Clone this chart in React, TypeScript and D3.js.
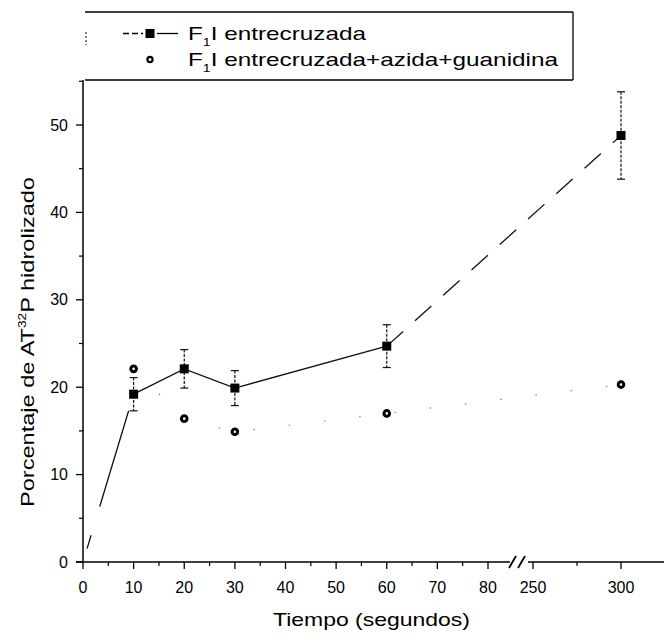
import React from "react";
import * as d3 from "d3";

// ---- data ----
const timesA = [10, 20, 30, 60, 300];
const valuesA = [19.2, 22.1, 19.9, 24.7, 48.8];
const errorsA = [1.9, 2.2, 2.0, 2.45, 5.0];
const originA = { t: 0, v: 0 };

const timesB = [10, 20, 30, 60, 300];
const valuesB = [22.1, 16.4, 14.9, 17.0, 20.3];

const xTicksLeft = [0, 10, 20, 30, 40, 50, 60, 70, 80];
const xMinorLeft = [5, 15, 25, 35, 45, 55, 65, 75];
const xTicksRight = [250, 300];
const xMinorRight = [275];
const yTicks = [0, 10, 20, 30, 40, 50];
const yMinor = [5, 15, 25, 35, 45, 55];

const legendLabels = ["I entrecruzada", "I entrecruzada+azida+guanidina"];

const W = 664;
const H = 642;

export default function App() {
  const xL = d3.scaleLinear().domain([0, 80]).range([83, 488]);
  const xR = d3.scaleLinear().domain([250, 300]).range([533, 621]);
  const x = (t: number) => (t <= 100 ? xL(t) : xR(t));
  const y = d3.scaleLinear().domain([0, 50]).range([562, 125]);

  const axisY = y(0);
  const axisX = xL(0);
  const breakX = 516;
  const font = "'Liberation Sans', Arial, sans-serif";

  const line = d3
    .line<[number, number]>()
    .x((d) => x(d[0]))
    .y((d) => y(d[1]));

  const solidPts: [number, number][] = timesA.slice(0, 4).map((t, i) => [t, valuesA[i]]);
  const firstSeg: [number, number][] = [
    [originA.t, originA.v],
    [timesA[0], valuesA[0]],
  ];
  const lastSeg: [number, number][] = [
    [timesA[3], valuesA[3]],
    [timesA[4], valuesA[4]],
  ];
  const ptsB: [number, number][] = timesB.map((t, i) => [t, valuesB[i]]);

  const legTop = 12;
  const legBot = 80;
  const legL = 85;
  const legR = 573;
  const row1 = 40;
  const row2 = 66;

  return (
    <svg width={W} height={H} style={{ display: "block", position: "absolute", left: 0, top: 0 }} fontFamily={font}>
      <rect width={W} height={H} fill="#fff" />

      {/* series B faint dotted line */}
      <path d={line(ptsB) || ""} fill="none" stroke="#888" strokeWidth={1.2} strokeDasharray="1.5 34" />

      {/* series A lines */}
      <path d={line(firstSeg) || ""} fill="none" stroke="#111" strokeWidth={1.3} strokeDasharray="0 14 14 30 100 40" />
      <path d={line(solidPts) || ""} fill="none" stroke="#111" strokeWidth={1.3} />
      <path d={line(lastSeg) || ""} fill="none" stroke="#111" strokeWidth={1.3} strokeDasharray="22 16" />

      {/* error bars A */}
      {timesA.map((t, i) => {
        const cx = x(t);
        const y1 = y(valuesA[i] + errorsA[i]);
        const y2 = y(valuesA[i] - errorsA[i]);
        return (
          <g key={"e" + i} stroke="#111" strokeWidth={1.2}>
            <line x1={cx} x2={cx} y1={y1} y2={y2} strokeDasharray="3 1.5" />
            <line x1={cx - 4} x2={cx + 4} y1={y1} y2={y1} />
            <line x1={cx - 4} x2={cx + 4} y1={y2} y2={y2} />
          </g>
        );
      })}

      {/* markers A */}
      {timesA.map((t, i) => (
        <rect key={"s" + i} x={x(t) - 4.5} y={y(valuesA[i]) - 4.5} width={9} height={9} fill="#000" />
      ))}

      {/* markers B */}
      {timesB.map((t, i) => (
        <circle key={"c" + i} cx={x(t)} cy={y(valuesB[i])} r={2.8} fill="#fff" stroke="#000" strokeWidth={3} />
      ))}

      {/* y axis */}
      <line x1={axisX} x2={axisX} y1={legBot} y2={axisY} stroke="#000" strokeWidth={1.5} />
      {yTicks.map((v) => (
        <g key={"yt" + v}>
          <line x1={axisX - 7} x2={axisX} y1={y(v)} y2={y(v)} stroke="#000" strokeWidth={1.3} />
          <text x={axisX - 15} y={y(v)} dy="0.35em" textAnchor="end" fontSize={16}>
            {v}
          </text>
        </g>
      ))}
      {yMinor.map((v) => (
        <line key={"ym" + v} x1={axisX - 4} x2={axisX} y1={y(v)} y2={y(v)} stroke="#000" strokeWidth={1.2} />
      ))}

      {/* x axis with break */}
      <line x1={axisX - 7} x2={breakX - 6} y1={axisY} y2={axisY} stroke="#000" strokeWidth={1.5} />
      <line x1={breakX + 12} x2={W} y1={axisY} y2={axisY} stroke="#000" strokeWidth={1.5} />
      <line x1={breakX - 7} x2={breakX} y1={axisY + 6} y2={axisY - 6} stroke="#000" strokeWidth={1.8} />
      <line x1={breakX + 2} x2={breakX + 9} y1={axisY + 6} y2={axisY - 6} stroke="#000" strokeWidth={1.8} />
      {xTicksLeft.map((t) => (
        <g key={"xt" + t}>
          <line x1={xL(t)} x2={xL(t)} y1={axisY} y2={axisY + 7} stroke="#000" strokeWidth={1.3} />
          <text x={xL(t)} y={axisY + 31} textAnchor="middle" fontSize={16}>
            {t}
          </text>
        </g>
      ))}
      {xMinorLeft.map((t) => (
        <line key={"xm" + t} x1={xL(t)} x2={xL(t)} y1={axisY} y2={axisY + 4} stroke="#000" strokeWidth={1.2} />
      ))}
      {xTicksRight.map((t) => (
        <g key={"xr" + t}>
          <line x1={xR(t)} x2={xR(t)} y1={axisY} y2={axisY + 7} stroke="#000" strokeWidth={1.3} />
          <text x={xR(t)} y={axisY + 31} textAnchor="middle" fontSize={16}>
            {t}
          </text>
        </g>
      ))}
      {xMinorRight.map((t) => (
        <line key={"xmr" + t} x1={xR(t)} x2={xR(t)} y1={axisY} y2={axisY + 4} stroke="#000" strokeWidth={1.2} />
      ))}

      {/* axis titles */}
      <text x={273} y={626} fontSize={19} textLength={197} lengthAdjust="spacingAndGlyphs">
        Tiempo (segundos)
      </text>
      <text
        transform={`translate(34, 507) rotate(-90)`}
        fontSize={19}
        textLength={330}
        lengthAdjust="spacingAndGlyphs"
      >
        Porcentaje de AT
        <tspan fontSize={11} dy={-8}>32</tspan>
        <tspan dy={8}>P hidrolizado</tspan>
      </text>

      {/* legend */}
      <g>
        <line x1={legL} x2={legR} y1={legTop} y2={legTop} stroke="#000" strokeWidth={1.3} />
        <line x1={legR} x2={legR} y1={legTop} y2={legBot} stroke="#000" strokeWidth={1.3} />
        <line x1={legL} x2={legR} y1={legBot} y2={legBot} stroke="#000" strokeWidth={1.3} />
        <line x1={legL + 1} x2={legL + 1} y1={32} y2={45} stroke="#000" strokeWidth={1} strokeDasharray="2 2" />
        <line x1={123} x2={143} y1={row1 - 6.5} y2={row1 - 6.5} stroke="#000" strokeWidth={1.3} strokeDasharray="6 3" />
        <rect x={145.5} y={row1 - 11} width={9} height={9} fill="#000" />
        <line x1={157} x2={178} y1={row1 - 6.5} y2={row1 - 6.5} stroke="#000" strokeWidth={1.3} />
        <circle cx={150} cy={row2 - 6.5} r={2.6} fill="#fff" stroke="#000" strokeWidth={2.2} />
        <text x={188} y={row1} fontSize={19} textLength={178} lengthAdjust="spacingAndGlyphs">
          F<tspan fontSize={11} dy={6}>1</tspan>
          <tspan dy={-6}>{legendLabels[0]}</tspan>
        </text>
        <text x={188} y={row2} fontSize={19} textLength={370} lengthAdjust="spacingAndGlyphs">
          F<tspan fontSize={11} dy={6}>1</tspan>
          <tspan dy={-6}>{legendLabels[1]}</tspan>
        </text>
      </g>
    </svg>
  );
}
